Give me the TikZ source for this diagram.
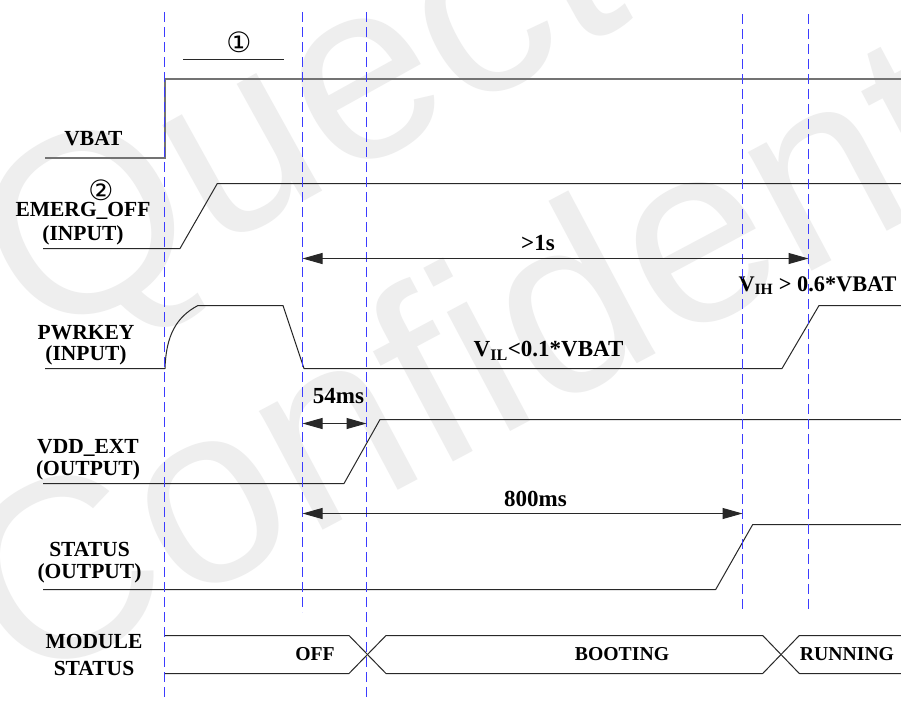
\documentclass[tikz,border=0pt]{standalone}
\usepackage{fontspec}
\setmainfont{Liberation Serif}
\newfontfamily\wmfont{Liberation Sans}
\newfontfamily\circfont{DejaVu Sans}
\usetikzlibrary{arrows.meta}
\definecolor{sigc}{RGB}{40,40,40}
\definecolor{vbc}{RGB}{115,115,115}
\definecolor{guidec}{RGB}{60,60,255}
\definecolor{wmc}{RGB}{238,238,238}
\begin{document}
\begin{tikzpicture}[x=1pt,y=-1pt,
  sig/.style={draw=sigc, line width=1pt, line join=round},
  vb/.style={draw=vbc, line width=1.8pt},
  guide/.style={draw=guidec, line width=1pt, dash pattern=on 10pt off 5pt},
  dim/.style={draw=sigc, line width=1pt, {Triangle[length=20pt,width=11pt]}-{Triangle[length=20pt,width=11pt]}},
  lbl/.style={font=\fontsize{21.5}{21.5}\selectfont\bfseries, align=center, inner sep=0pt, anchor=base, text=black},
  dlbl/.style={font=\fontsize{23}{23}\selectfont\bfseries, inner sep=0pt, anchor=base, text=black},
  mlbl/.style={font=\fontsize{19.7}{19.7}\selectfont\bfseries, inner sep=0pt, anchor=base, text=black},
  circ/.style={font=\circfont\fontsize{28}{28}\selectfont, inner sep=0pt, text=black},
  wm/.style={font=\wmfont\fontsize{255}{255}\selectfont, text=wmc, inner sep=0pt, anchor=base west, rotate=29}
]
\useasboundingbox (0,0) rectangle (901,702);
\fill[white] (0,0) rectangle (901,702);
% watermark
\begin{scope}
  \clip (0,0) rectangle (901,702);
  \node[wm] (wm1) at (40,348) {Quectel};
  \node[wm, rotate=-1] (wm2) at (20,692) {Confidential};
\end{scope}

% guide coordinates
\coordinate (g1t) at (164.5,12);   \coordinate (g1b) at (164.5,697);
\coordinate (g2t) at (302.5,12);   \coordinate (g2b) at (302.5,612);
\coordinate (g3t) at (366.5,12);   \coordinate (g3b) at (366.5,697);
\coordinate (g4t) at (742.5,14);   \coordinate (g4b) at (742.5,612);
\coordinate (g5t) at (808.5,14);   \coordinate (g5b) at (808.5,612);

% VBAT
\draw[vb] (45,158) -- (165,158) -- (165,79) -- (901,79);
\draw[sigc, line width=1pt] (183,59.5) -- (284,59.5);
\node[circ] (c1) at (239,42) {①};
\node[lbl] (vbat) at (93.5,145.7) {VBAT};

% EMERG_OFF
\draw[sig] (43,248.5) -- (180,248.5) -- (217.3,183.5) -- (901,183.5);
\node[circ] (c2) at (101,190) {②};
\node[lbl, font=\fontsize{21.5}{23.3}\selectfont\bfseries] (emerg) at (83,240) {EMERG\_OFF\\(INPUT)};

% PWRKEY
\draw[sig] (45,368.5) -- (165,368.5) .. controls (166,336) and (176,317) .. (198,305.5) -- (283,305.5) -- (304,368.5) -- (782,368.5) -- (819,305.5) -- (901,305.5);
\node[lbl, font=\fontsize{21.5}{21.3}\selectfont\bfseries] (pwrkey) at (86,360.3) {PWRKEY\\(INPUT)};
\node[dlbl] (vil) at (548.5,356.7) {V\textsubscript{IL}<0.1*VBAT};
\node[dlbl, font=\fontsize{22.3}{22.3}\selectfont\bfseries] (vih) at (817.5,291.7) {V\textsubscript{IH} > 0.6*VBAT};

% VDD_EXT
\draw[sig] (43,483.5) -- (344,483.5) -- (380,419.5) -- (901,419.5);
\node[lbl, font=\fontsize{21.5}{21.8}\selectfont\bfseries] (vdd) at (88,475.1) {VDD\_EXT\\(OUTPUT)};

% STATUS
\draw[sig] (43,589.5) -- (715.7,589.5) -- (752.7,524.5) -- (901,524.5);
\node[lbl, font=\fontsize{21.5}{21.5}\selectfont\bfseries] (status) at (89.5,578.2) {STATUS\\(OUTPUT)};

% MODULE STATUS bus
\draw[sig] (165,635.5) -- (349,635.5) -- (386,673.5) -- (762.7,673.5) -- (799.3,635.5) -- (901,635.5);
\draw[sig] (165,673.5) -- (349,673.5) -- (386,635.5) -- (762.7,635.5) -- (799.3,673.5) -- (901,673.5);
\node[lbl, font=\fontsize{21.5}{27}\selectfont\bfseries] (module) at (94,675) {MODULE\\STATUS};
\node[mlbl] (off) at (315,660) {OFF};
\node[mlbl] (boot) at (622,660) {BOOTING};
\node[mlbl] (run) at (847,660) {RUNNING};

% guides
\draw[guide] (g1t) -- (g1b);
\draw[guide] (g2t) -- (g2b);
\draw[guide] (g3t) -- (g3b);
\draw[guide] (g4t) -- (g4b);
\draw[guide] (g5t) -- (g5b);

% dimension arrows
\coordinate (a1l) at (302.5,258.5); \coordinate (a1r) at (808.5,258.5);
\draw[dim] (a1l) -- (a1r);
\node[dlbl] (t1) at (538,250) {>1s};
\coordinate (a2l) at (302.5,423.5); \coordinate (a2r) at (366.5,423.5);
\draw[dim] (a2l) -- (a2r);
\node[dlbl] (t2) at (338.5,403.3) {54ms};
\coordinate (a3l) at (302.5,513.5); \coordinate (a3r) at (742.5,513.5);
\draw[dim] (a3l) -- (a3r);
\node[dlbl] (t3) at (535.5,506.7) {800ms};
\end{tikzpicture}
\end{document}
